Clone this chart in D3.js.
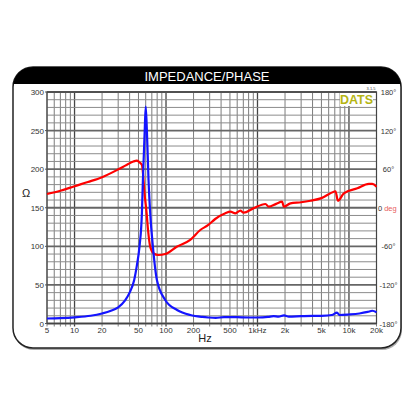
<!DOCTYPE html>
<html>
<head>
<meta charset="utf-8">
<script src="https://cdn.jsdelivr.net/npm/d3@7"></script>
<style>
body { margin: 0; background: #fff; }
text { font-family: "Liberation Sans", Arial, sans-serif; }
</style>
</head>
<body>
<div id="chart"></div>
<script>
// impedance curve (Hz, ohm)
var zFreq = [5, 7, 10, 15, 20, 25, 30, 35.7, 40, 44.9, 48, 51.3, 54.5, 55.9, 58.5, 60, 61.8, 64.4, 67.2, 71.9, 79.5, 98, 132, 184, 250, 290, 350, 430, 500, 600, 800, 1000, 1300, 1500, 1700, 1950, 2200, 3000, 4000, 5000, 6500, 7400, 7900, 10000, 13000, 16000, 18000, 20000];
var zOhm  = [6.5, 7, 8, 10, 13, 16.5, 21, 30, 40, 56.4, 75, 99.5, 142.8, 186, 250, 281, 250, 186, 142.8, 99.5, 56.4, 30.5, 17.5, 11, 8.5, 7.8, 7.3, 8.3, 8.3, 8.2, 7.8, 7.8, 8.5, 9.5, 8.8, 10.5, 9, 9.5, 9.8, 10, 11, 14, 11, 11.7, 13, 15, 16.5, 14.5];

// phase curve (Hz, degrees)
var pFreq = [5, 7, 10, 14, 20, 29, 37.4, 44, 47.9, 51, 54.6, 56.8, 57.8, 61.4, 63.6, 67.2, 72.6, 82.8, 98, 131, 184, 237, 290, 345, 445, 505, 573, 650, 706, 900, 1222, 1328, 1600, 1862, 1937, 2295, 3000, 3800, 5000, 6840, 7130, 7570, 8800, 12340, 16500, 18000, 20000];
var pDeg  = [21.4, 26.5, 33.5, 40, 47.5, 58.5, 67, 72, 73.2, 71, 66.5, 43, 27.6, -8.6, -34.6, -60.6, -70.4, -73.5, -72, -60.6, -50, -34.6, -26.8, -17.5, -8.6, -6.1, -8.6, -4.6, -7.7, -1, 5.8, 1.6, 6, 9.4, 1.6, 6.9, 8.5, 10.9, 15, 24.9, 25.6, 10.9, 22.5, 30.2, 37, 37, 32.7];

// axes
var xTicks = [5, 10, 20, 50, 100, 200, 500, 1000, 2000, 5000, 10000, 20000];
var xTickLabels = ["5", "10", "20", "50", "100", "200", "500", "1kHz", "2k", "5k", "10k", "20k"];
var yTicks = [0, 50, 100, 150, 200, 250, 300];
var phaseTicks = [180, 120, 60, -60, -120, -180];

var W = 416, H = 416;
var pL = 47, pR = 376.5, pT = 92, pB = 323.5;

var x = d3.scaleLog().domain([5, 20000]).range([pL, pR]);
var y = d3.scaleLinear().domain([0, 300]).range([pB, pT]);
var yp = d3.scaleLinear().domain([-180, 180]).range([pB, pT]);

var svg = d3.select("#chart").append("svg")
  .attr("width", W).attr("height", H);

// frame with shadow
svg.append("rect")
  .attr("x", 14).attr("y", 69).attr("width", 388).attr("height", 281)
  .attr("rx", 20).attr("fill", "#777").attr("opacity", 0.6);
svg.append("rect")
  .attr("x", 13).attr("y", 67).attr("width", 388).attr("height", 281)
  .attr("rx", 20).attr("fill", "#fff").attr("stroke", "#222").attr("stroke-width", 1.5);

// header
var hx0 = 13, hx1 = 401, hy0 = 67, hy1 = 84, r = 20;
svg.append("path")
  .attr("d", "M" + hx0 + "," + hy1 + " L" + hx0 + "," + (hy0 + r) +
    " A" + r + "," + r + " 0 0 1 " + (hx0 + r) + "," + hy0 +
    " L" + (hx1 - r) + "," + hy0 +
    " A" + r + "," + r + " 0 0 1 " + hx1 + "," + (hy0 + r) +
    " L" + hx1 + "," + hy1 + " Z")
  .attr("fill", "#000");
svg.append("text")
  .attr("x", 207).attr("y", 80.5)
  .attr("text-anchor", "middle")
  .attr("font-size", 13)
  .attr("fill", "#fff")
  .text("IMPEDANCE/PHASE");

// grid: vertical lines at every 1..9 x decade
var g = svg.append("g");
var vLines = [];
[1, 10, 100, 1000, 10000].forEach(function(dec) {
  for (var k = 1; k < 10; k++) {
    var f = k * dec;
    if (f >= 5 && f <= 20000) vLines.push(f);
  }
});
g.selectAll("line.v").data(vLines).enter().append("line")
  .attr("class", "v")
  .attr("x1", function(d) { return x(d); })
  .attr("x2", function(d) { return x(d); })
  .attr("y1", pT).attr("y2", pB + 3)
  .attr("stroke", function(d) { return Math.log10(d) % 1 === 0 ? "#444" : "#7c7c7c"; })
  .attr("stroke-width", function(d) { return Math.log10(d) % 1 === 0 ? 1.3 : 1; });

var hLines = d3.range(0, 301, 10);
g.selectAll("line.h").data(hLines).enter().append("line")
  .attr("class", "h")
  .attr("x1", pL).attr("x2", pR)
  .attr("y1", function(d) { return y(d); })
  .attr("y2", function(d) { return y(d); })
  .attr("stroke", function(d) { return d % 50 === 0 ? "#666" : "#8c8c8c"; })
  .attr("stroke-width", function(d) { return d % 50 === 0 ? 1.8 : 1; });

// plot border
g.append("rect")
  .attr("x", pL).attr("y", pT)
  .attr("width", pR - pL).attr("height", pB - pT)
  .attr("fill", "none").attr("stroke", "#444").attr("stroke-width", 1.2);

// left axis labels
svg.selectAll("text.yl").data(yTicks).enter().append("text")
  .attr("class", "yl")
  .attr("x", 44).attr("y", function(d) { return y(d) + 3; })
  .attr("text-anchor", "end").attr("font-size", 8).attr("fill", "#333")
  .text(function(d) { return d; });
svg.selectAll("line.yt").data(yTicks).enter().append("line")
  .attr("class", "yt")
  .attr("x1", pL - 2).attr("x2", pL)
  .attr("y1", function(d) { return y(d); }).attr("y2", function(d) { return y(d); })
  .attr("stroke", "#555");
svg.append("text")
  .attr("x", 26).attr("y", 197)
  .attr("text-anchor", "middle").attr("font-size", 11).attr("fill", "#222")
  .text("Ω");

// bottom labels
svg.selectAll("text.xl").data(xTicks).enter().append("text")
  .attr("class", "xl")
  .attr("x", function(d) { return x(d); }).attr("y", 333)
  .attr("text-anchor", "middle").attr("font-size", 8).attr("fill", "#333")
  .text(function(d, i) { return xTickLabels[i]; });
svg.append("text")
  .attr("x", 205).attr("y", 342)
  .attr("text-anchor", "middle").attr("font-size", 11).attr("fill", "#222")
  .text("Hz");

// right phase labels
svg.selectAll("text.pl").data(phaseTicks).enter().append("text")
  .attr("class", "pl")
  .attr("x", 388.5).attr("y", function(d) { return yp(d) + 3; })
  .attr("text-anchor", "middle")
  .attr("font-size", 7.5).attr("fill", "#333")
  .text(function(d) { return d + "°"; });
var zeroLab = svg.append("text")
  .attr("x", 378).attr("y", yp(0) + 3)
  .attr("font-size", 7.5).attr("fill", "#333");
zeroLab.append("tspan").text("0");
zeroLab.append("tspan").attr("dx", 2).attr("fill", "#e86060").text("deg");

// DATS logo
svg.append("rect")
  .attr("x", 340).attr("y", 93).attr("width", 33).attr("height", 13)
  .attr("fill", "#fff");
svg.append("text")
  .attr("x", 356.5).attr("y", 104)
  .attr("text-anchor", "middle").attr("font-size", 12.5).attr("font-weight", "bold")
  .attr("fill", "#b5b514")
  .text("DATS");
svg.append("text")
  .attr("x", 371).attr("y", 89.5)
  .attr("text-anchor", "middle").attr("font-size", 4).attr("fill", "#444")
  .text("3.1.5");

// curves
var zData = zFreq.map(function(f, i) { return [f, zOhm[i]]; });
var pData = pFreq.map(function(f, i) { return [f, pDeg[i]]; });

var zLine = d3.line()
  .x(function(d) { return x(d[0]); })
  .y(function(d) { return y(d[1]); })
  .curve(d3.curveMonotoneX);
var pLine = d3.line()
  .x(function(d) { return x(d[0]); })
  .y(function(d) { return yp(d[1]); })
  .curve(d3.curveMonotoneX);

svg.append("path")
  .attr("d", pLine(pData))
  .attr("fill", "none").attr("stroke", "#ff0000").attr("stroke-width", 2.2);
svg.append("path")
  .attr("d", zLine(zData))
  .attr("fill", "none").attr("stroke", "#1414ff").attr("stroke-width", 2.2);
</script>
</body>
</html>
